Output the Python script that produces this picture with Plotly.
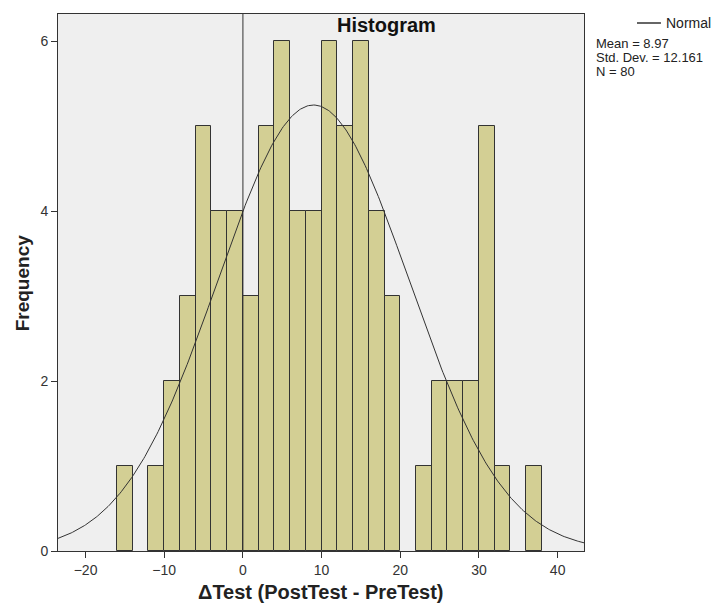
import numpy as np
import plotly.graph_objects as go

# Data
bin_left = [-16, -14, -12, -10, -8, -6, -4, -2, 0, 2, 4, 6, 8, 10, 12, 14, 16, 18,
            20, 22, 24, 26, 28, 30, 32, 34, 36]
counts = [1, 0, 1, 2, 3, 5, 4, 4, 3, 5, 6, 4, 4, 6, 5, 6, 4, 3,
          0, 1, 2, 2, 2, 5, 1, 0, 1]
bin_width = 2
mean = 8.97
std = 12.161
n = 80
x_ticks = [-20, -10, 0, 10, 20, 30, 40]
y_ticks = [0, 2, 4, 6]

bx = [b + bin_width / 2 for b, c in zip(bin_left, counts) if c > 0]
by = [c for c in counts if c > 0]

xr = [-23.5, 43.35]
xs = np.linspace(xr[0], xr[1], 400)
ys = n * bin_width / (std * np.sqrt(2 * np.pi)) * np.exp(-0.5 * ((xs - mean) / std) ** 2)

# page layout (browser body has an 8px margin)
OFF = 8
W, H = 716, 597
L, R, T, B = 49.7, 140, 6, 54
PW = W - L - R
PH = H - T - B


def px(X):
    return (X - OFF - L) / PW


def py(Y):
    return 1 - (Y - OFF - T) / PH


font = "Liberation Sans, Arial, sans-serif"

fig = go.Figure()
fig.add_trace(go.Bar(x=bx, y=by, width=bin_width,
                     marker=dict(color="#d3cf94", line=dict(color="#333333", width=1)),
                     showlegend=False))
fig.add_trace(go.Scatter(x=xs, y=ys, mode="lines", line=dict(color="#333333", width=1),
                         showlegend=False))

fig.add_shape(type="line", xref="x", yref="paper", x0=0, x1=0, y0=0, y1=1,
              line=dict(color="#333333", width=1))
fig.add_shape(type="line", xref="paper", yref="paper",
              x0=px(637), x1=px(661), y0=py(23), y1=py(23),
              line=dict(color="#333333", width=1.5))


def ann(text, X, Y, size, xanchor="center", angle=0, color="#222222"):
    return dict(text=text, x=px(X), y=py(Y), xref="paper", yref="paper",
                xanchor=xanchor, yanchor="middle", textangle=angle, showarrow=False,
                font=dict(family=font, size=size, color=color))


fig.update_layout(
    width=W, height=H,
    margin=dict(l=L, r=R, t=T, b=B, pad=0),
    paper_bgcolor="white", plot_bgcolor="#efefef",
    bargap=0,
    xaxis=dict(range=xr, tickvals=x_ticks, showgrid=False, zeroline=False,
               showline=True, linecolor="#333333", linewidth=1, mirror=True,
               ticks="outside", ticklen=6, tickcolor="#333333",
               tickfont=dict(family=font, size=14, color="#333333")),
    yaxis=dict(range=[0, 6.32], tickvals=y_ticks, showgrid=False, zeroline=False,
               showline=True, linecolor="#333333", linewidth=1, mirror=True,
               ticks="outside", ticklen=6, tickcolor="#333333",
               tickfont=dict(family=font, size=14, color="#333333")),
    annotations=[
        ann("<b>Histogram</b>", 386, 25, 20, color="#111111"),
        ann("<b>Frequency</b>", 22, 283, 19, angle=-90),
        ann("<b>ΔTest (PostTest - PreTest)</b>", 321, 592, 20),
        ann("Normal", 664, 23, 14, xanchor="left"),
        ann("Mean = 8.97", 594, 43.5, 13, xanchor="left"),
        ann("Std. Dev. = 12.161", 594, 57.7, 13, xanchor="left"),
        ann("N = 80", 594, 71.9, 13, xanchor="left"),
    ],
)

fig.write_html("out.html")
